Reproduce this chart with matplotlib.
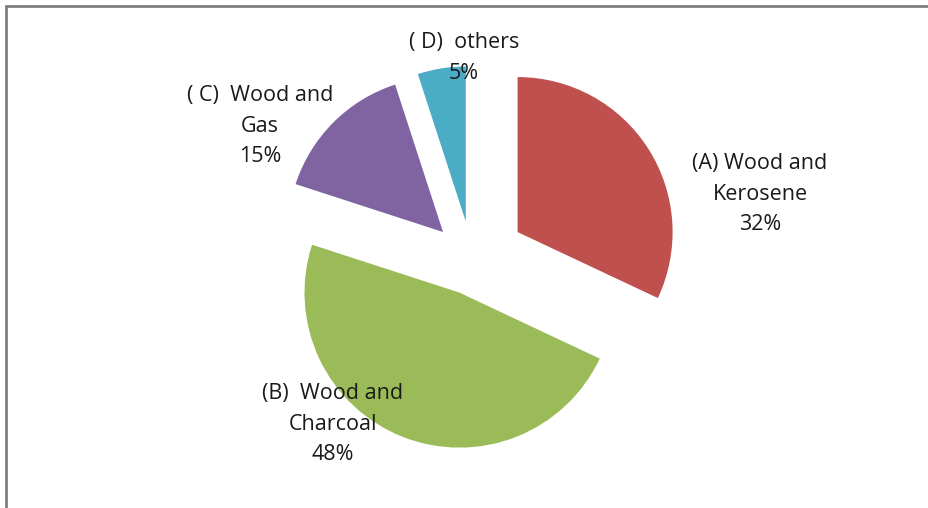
import matplotlib.pyplot as plt
from matplotlib.patches import Rectangle

# data
categories = ["(A) Wood and\nKerosene", "(B)  Wood and\nCharcoal", "( C)  Wood and\nGas", "( D)  others"]
shares = [32, 48, 15, 5]
colors = ["#C0504D", "#9BBB59", "#8064A2", "#4BACC6"]

W, H = 929, 508
fig = plt.figure(figsize=(W / 100, H / 100), dpi=100)
ax = fig.add_axes([0, 0, 1, 1])
ax.set_xlim(0, W)
ax.set_ylim(0, H)
ax.set_aspect("equal")
ax.axis("off")

# pie drawn in pixel-like data units (y up)
radius = 155
center = (472, H - 261)
explode = [54, 34, 41, 40]

ax.pie(shares, colors=colors, startangle=90, counterclock=False,
       radius=radius, center=center, explode=explode,
       wedgeprops=dict(linewidth=0), frame=False)
ax.set_xlim(0, W)
ax.set_ylim(0, H)

label_pos = [(760, 194), (333, 424), (260, 126), (464, 58)]
for name, val, (x, y) in zip(categories, shares, label_pos):
    ax.text(x, H - y, "{0}\n{1}%".format(name, val), ha="center", va="center",
            fontsize=15.5, family="Open Sans", color="#1a1a1a", linespacing=1.6)

# chart frame (only top and left edges visible)
fig.add_artist(Rectangle((6 / W, -0.1), 2, 1 - 6 / H + 0.1, transform=fig.transFigure,
                         fill=False, ec="#7f7f7f", lw=2))

fig.savefig("out.png", dpi=100)
